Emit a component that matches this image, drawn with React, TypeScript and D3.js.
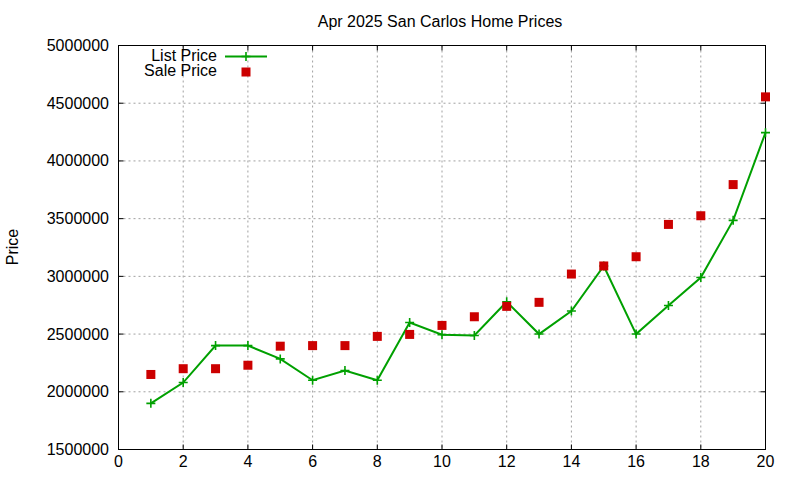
import * as d3 from "d3";

const days = [1, 2, 3, 4, 5, 6, 7, 8, 9, 10, 11, 12, 13, 14, 15, 16, 17, 18, 19, 20];
const listPrice = [
  1900000, 2080000, 2400000, 2400000, 2285000, 2100000, 2185000, 2100000, 2600000, 2495000,
  2488000, 2780000, 2500000, 2700000, 3090000, 2500000, 2748000, 2990000, 3485000, 4245000,
];
const salePrice = [
  2150000, 2200000, 2200000, 2230000, 2395000, 2400000, 2400000, 2480000, 2497000, 2575000,
  2650000, 2740000, 2775000, 3020000, 3090000, 3170000, 3450000, 3525000, 3795000, 4555000,
];
const xTicks = [0, 2, 4, 6, 8, 10, 12, 14, 16, 18, 20];
const yTicks = [1500000, 2000000, 2500000, 3000000, 3500000, 4000000, 4500000, 5000000];

const W = 800;
const H = 480;
const left = 118.5;
const right = 765.5;
const top = 45.5;
const bottom = 449.5;
const font = "'Liberation Sans', Arial, sans-serif";
const green = "#00a000";
const red = "#cc0000";

const Plus = ({ x, y, s = 4.5 }: { x: number; y: number; s?: number }) => (
  <path d={`M${x - s},${y}H${x + s}M${x},${y - s}V${y + s}`} stroke={green} strokeWidth={1.6} />
);

export default function App() {
  const x = d3.scaleLinear().domain([0, 20]).range([left, right]);
  const y = d3.scaleLinear().domain([1500000, 5000000]).range([bottom, top]);

  const line = d3
    .line<number>()
    .x((_, i) => x(days[i]))
    .y((d) => y(d));

  return (
    <svg
      width={W}
      height={H}
      style={{ position: "absolute", left: 0, top: 0, background: "#fff" }}
      fontFamily={font}
      fontSize={16}
    >
      {/* grid */}
      {xTicks.slice(1, -1).map((t) => (
        <line key={"gx" + t} x1={x(t)} x2={x(t)} y1={top} y2={bottom} stroke="#a0a0a0" strokeDasharray="2,3" />
      ))}
      {yTicks.slice(1, -1).map((t) => (
        <line key={"gy" + t} x1={left} x2={right} y1={y(t)} y2={y(t)} stroke="#a0a0a0" strokeDasharray="2,3" />
      ))}

      {/* ticks, mirrored */}
      {xTicks.map((t) => (
        <g key={"tx" + t} stroke="#000">
          <line x1={x(t)} x2={x(t)} y1={bottom} y2={bottom - 5} />
          <line x1={x(t)} x2={x(t)} y1={top} y2={top + 5} />
        </g>
      ))}
      {yTicks.map((t) => (
        <g key={"ty" + t} stroke="#000">
          <line x1={left} x2={left + 5} y1={y(t)} y2={y(t)} />
          <line x1={right} x2={right - 5} y1={y(t)} y2={y(t)} />
        </g>
      ))}

      <rect x={left} y={top} width={right - left} height={bottom - top} fill="none" stroke="#000" />

      {/* tick labels */}
      {xTicks.map((t) => (
        <text key={"lx" + t} x={x(t)} y={467} textAnchor="middle">
          {t}
        </text>
      ))}
      {yTicks.map((t) => (
        <text key={"ly" + t} x={109} y={y(t) + 5.5} textAnchor="end">
          {t}
        </text>
      ))}

      <text x={440} y={27} textAnchor="middle">
        Apr 2025 San Carlos Home Prices
      </text>
      <text transform="translate(18,247) rotate(-90)" textAnchor="middle">
        Price
      </text>

      {/* list price */}
      <path d={line(listPrice) ?? ""} fill="none" stroke={green} strokeWidth={2} />
      {listPrice.map((v, i) => (
        <Plus key={"p" + i} x={x(days[i])} y={y(v)} />
      ))}

      {/* sale price */}
      {salePrice.map((v, i) => (
        <rect key={"s" + i} x={x(days[i]) - 4.5} y={y(v) - 4.5} width={9} height={9} fill={red} />
      ))}

      {/* legend */}
      <text x={217} y={61} textAnchor="end">
        List Price
      </text>
      <line x1={225} x2={267} y1={56.5} y2={56.5} stroke={green} strokeWidth={2} />
      <Plus x={246} y={56.5} />
      <text x={217} y={76} textAnchor="end">
        Sale Price
      </text>
      <rect x={241.5} y={67.5} width={9} height={9} fill={red} />
    </svg>
  );
}
